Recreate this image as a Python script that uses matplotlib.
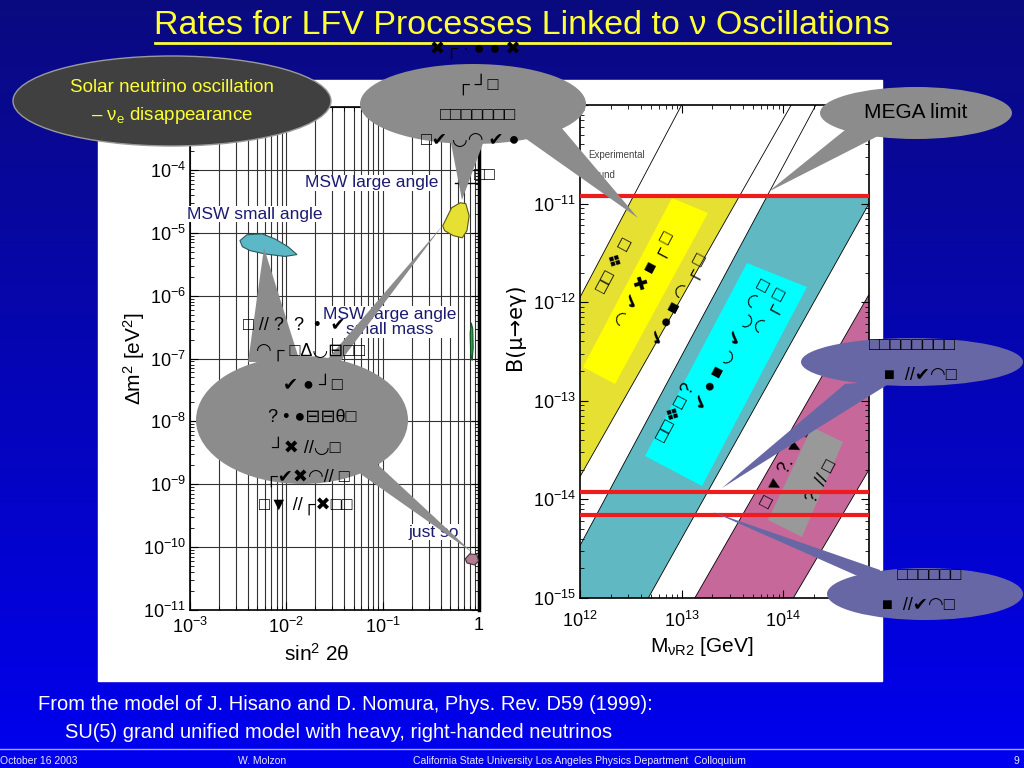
import numpy as np
import matplotlib.pyplot as plt
from matplotlib.patches import Ellipse, Polygon, Rectangle
from matplotlib.ticker import LogLocator, NullFormatter

plt.rcParams['font.family'] = ['Liberation Sans', 'DejaVu Sans']
plt.rcParams['mathtext.fontset'] = 'custom'
plt.rcParams['mathtext.rm'] = 'Liberation Sans'
plt.rcParams['mathtext.it'] = 'Liberation Sans:italic'
plt.rcParams['mathtext.sf'] = 'Liberation Sans'
plt.rcParams['axes.unicode_minus'] = False

W, H = 1024, 768

# ---------------- data: solar neutrino regions (sin^2 2theta, dm^2 [eV^2])
msw_small_x = [3.3e-3, 3.9e-3, 5.6e-3, 7.6e-3, 1.04e-2, 1.29e-2, 9.7e-3, 6.0e-3, 4.2e-3, 3.5e-3]
msw_small_y = [7.5e-6, 9.3e-6, 9.6e-6, 8.0e-6, 6.0e-6, 4.5e-6, 4.2e-6, 4.6e-6, 5.2e-6, 6.0e-6]
msw_large_x = [0.42, 0.52, 0.64, 0.73, 0.79, 0.75, 0.67, 0.54, 0.44]
msw_large_y = [1.29e-5, 2.5e-5, 3.0e-5, 2.9e-5, 1.86e-5, 1.08e-5, 8.3e-6, 9.0e-6, 1.08e-5]
low_x = [0.83, 0.86, 0.87, 0.85, 0.82, 0.81]
low_y = [3.7e-7, 3.0e-7, 1.5e-7, 9.3e-8, 1.2e-7, 2.5e-7]
just_so_x = [0.72, 0.80, 0.95, 0.99, 0.90, 0.75]
just_so_y = [6.5e-11, 7.8e-11, 7.6e-11, 6.0e-11, 5.2e-11, 5.6e-11]

sin_ticks = [1e-3, 1e-2, 1e-1, 1]
sin_labels = [r'$10^{-3}$', r'$10^{-2}$', r'$10^{-1}$', '1']
dm2_ticks = [1e-11, 1e-10, 1e-9, 1e-8, 1e-7, 1e-6, 1e-5, 1e-4, 1e-3]
dm2_labels = [r'$10^{-11}$', r'$10^{-10}$', r'$10^{-9}$', r'$10^{-8}$', r'$10^{-7}$',
              r'$10^{-6}$', r'$10^{-5}$', r'$10^{-4}$', '']

# ---------------- data: B(mu->e gamma) vs M_nuR2 bands (edge end points)
yellow_hi = ([1e12, 1e13], [1.12e-12, 1e-10])
yellow_lo = ([1e12, 1.2e14], [1.7e-14, 1e-10])
teal_hi = ([1e12, 2.1e14], [3.4e-15, 1e-10])
teal_lo = ([4.7e12, 7e14], [1e-15, 1e-11])
pink_hi = ([1.35e13, 7e14], [1e-15, 1.2e-12])
pink_lo = ([1.26e14, 7e14], [1e-15, 2e-14])
exp_bound = 1.2e-11
future_bounds = [1.2e-14, 7e-15]

m_lim = (1e12, 7e14)
b_lim = (1e-15, 1e-10)
m_ticks = [1e12, 1e13, 1e14]
m_labels = [r'$10^{12}$', r'$10^{13}$', r'$10^{14}$']
b_ticks = [1e-15, 1e-14, 1e-13, 1e-12, 1e-11, 1e-10]
b_labels = [r'$10^{-15}$', r'$10^{-14}$', r'$10^{-13}$', r'$10^{-12}$', r'$10^{-11}$', '']

fig = plt.figure(figsize=(10.24, 7.68), dpi=100)


def px_axes(left, top, right, bottom, **kw):
    return fig.add_axes([left / W, 1 - bottom / H, (right - left) / W, (bottom - top) / H], **kw)


# ---------------- slide background
bg = px_axes(0, 0, W, H, zorder=0)
img = np.zeros((256, 1, 3))
img[:, 0, 0] = np.linspace(0.04, 0.0, 256)
img[:, 0, 1] = np.linspace(0.04, 0.0, 256)
img[:, 0, 2] = np.linspace(0.50, 0.94, 256)
bg.imshow(img, extent=[0, W, H, 0], aspect='auto')
bg.set_xlim(0, W)
bg.set_ylim(H, 0)
bg.axis('off')
bg.add_patch(Rectangle((98, 80), 784, 601, color='white'))

bg.text(522, 26, 'Rates for LFV Processes Linked to ν Oscillations', color='#ffff33',
        fontsize=24.5, ha='center', va='center')
bg.plot([155, 890], [43, 43], color='#ffff33', lw=2)

bg.text(38, 705, 'From the model of J. Hisano and D. Nomura, Phys. Rev. D59 (1999):',
        color='white', fontsize=14.5, va='center')
bg.text(65, 732, 'SU(5) grand unified model with heavy, right-handed neutrinos',
        color='white', fontsize=14.5, va='center')
bg.plot([0, W], [749, 749], color='#a8a8ff', lw=1)
for x, s in [(0, 'October 16 2003'), (238, 'W. Molzon'),
             (413, 'California State University Los Angeles Physics Department  Colloquium'),
             (1014, '9')]:
    bg.text(x, 761, s, color='#e8e8ff', fontsize=7.5, va='center')

# ---------------- left plot: solar neutrino oscillation
axl = px_axes(190, 107, 479, 610, zorder=1)
axl.set_xscale('log')
axl.set_yscale('log')
axl.set_xlim(1e-3, 1)
axl.set_ylim(1e-11, 1e-3)
axl.grid(True, which='both', axis='x', color='#333333', lw=0.8)
axl.grid(True, which='major', axis='y', color='#333333', lw=0.8)
axl.set_xticks(sin_ticks)
axl.set_xticklabels(sin_labels)
axl.set_yticks(dm2_ticks)
axl.set_yticklabels(dm2_labels)
axl.yaxis.set_minor_locator(LogLocator(subs=np.arange(2, 10), numticks=20))
axl.xaxis.set_minor_formatter(NullFormatter())
axl.yaxis.set_minor_formatter(NullFormatter())
axl.tick_params(which='both', direction='in', top=True, right=True, labelsize=13, pad=3)
axl.tick_params(axis='x', pad=5)
axl.tick_params(which='major', length=6)
axl.tick_params(which='minor', length=3)
for sp in axl.spines.values():
    sp.set_linewidth(1.2)
axl.spines['right'].set_linewidth(2.5)
axl.set_xlabel('sin$^2$ 2θ', fontsize=15)
axl.xaxis.set_label_coords(0.44, -0.065)
axl.set_ylabel('Δm$^2$ [eV$^2$]', fontsize=15)
axl.yaxis.set_label_coords(-0.15, 0.5)

axl.fill(msw_small_x, msw_small_y, facecolor='#5cb8c6', edgecolor='#2a5a60', lw=0.8, zorder=3)
axl.fill(msw_large_x, msw_large_y, facecolor='#e6e033', edgecolor='#555522', lw=0.8, zorder=3)
axl.fill(low_x, low_y, facecolor='#22a050', edgecolor='#115522', lw=0.8, zorder=3)
axl.fill(just_so_x, just_so_y, facecolor='#b07c94', edgecolor='#443333', lw=0.8, zorder=3)

lab = dict(color='#1a1a70', fontsize=12.5, transform=bg.transData, zorder=4,
           bbox=dict(facecolor='white', edgecolor='none', pad=0.5))
axl.text(305, 183, 'MSW large angle', va='center', **lab)
axl.text(187, 214, 'MSW small angle', va='center', **lab)
axl.text(390, 322, 'MSW large angle\nsmall mass', va='center', ha='center', linespacing=1.0, **lab)
axl.text(408, 532, 'just so', va='center', **lab)
axl.plot([455, 478], [183, 183], color='k', lw=1, transform=bg.transData, zorder=4)

# ---------------- right plot: B(mu -> e gamma)
axr = px_axes(580, 105, 869, 598, zorder=1)
axr.set_xscale('log')
axr.set_yscale('log')
axr.set_xlim(*m_lim)
axr.set_ylim(*b_lim)
axr.set_xticks(m_ticks)
axr.set_xticklabels(m_labels)
axr.set_yticks(b_ticks)
axr.set_yticklabels(b_labels)
axr.yaxis.set_minor_locator(LogLocator(subs=np.arange(2, 10), numticks=20))
axr.xaxis.set_minor_formatter(NullFormatter())
axr.yaxis.set_minor_formatter(NullFormatter())
axr.tick_params(which='both', direction='in', top=True, right=True, labelsize=13, pad=3)
axr.tick_params(axis='x', pad=9)
axr.tick_params(which='major', length=6)
axr.tick_params(which='minor', length=3)
for sp in axr.spines.values():
    sp.set_linewidth(1.2)
axr.set_xlabel(r'M$_\mathrm{νR2}$ [GeV]', fontsize=15)
axr.xaxis.set_label_coords(0.42, -0.075)
axr.set_ylabel('B(μ→eγ)', fontsize=15, family=['DejaVu Sans'])
axr.yaxis.set_label_coords(-0.19, 0.55)

m_grid = np.array([1e11, 1e16])


def edge(pts):
    lx, ly = np.log10(pts[0]), np.log10(pts[1])
    k = (ly[1] - ly[0]) / (lx[1] - lx[0])
    return 10 ** (ly[0] + k * (np.log10(m_grid) - lx[0]))


for lo, hi, col in [(yellow_lo, yellow_hi, '#e6e033'), (teal_lo, teal_hi, '#5fb8c2'),
                    (pink_lo, pink_hi, '#c6689a')]:
    f = axr.fill_between(m_grid, edge(lo), edge(hi), facecolor=col, edgecolor='none', zorder=1)
    clip = Rectangle((m_lim[0], b_lim[0]), m_lim[1] - m_lim[0], exp_bound - b_lim[0],
                     transform=axr.transData)
    f.set_clip_path(clip)
    axr.plot(m_grid, edge(lo), color='k', lw=0.6, zorder=2)
    axr.plot(m_grid, edge(hi), color='k', lw=0.6, zorder=2)

# rotated text boxes on the bands (pixel positions)
for verts, col in [([(583, 367), (615, 384), (708, 213), (672, 198)], '#ffff00'),
                   ([(645, 456), (702, 486), (807, 287), (747, 263)], '#00ffff'),
                   ([(768, 520), (802, 537), (843, 442), (812, 427)], '#999999')]:
    axr.add_patch(Polygon(verts, closed=True, facecolor=col, edgecolor='none',
                          transform=bg.transData, zorder=3))

rot = dict(rotation=62, ha='center', va='center', fontsize=13, transform=bg.transData,
           zorder=4, rotation_mode='anchor')
for x, y, s in [(615, 266, '□□ ❖ □'), (646, 280, '◠ ✔ ✖ ■ ┌ □'), (680, 300, '✔ ● ■ ◠ ┌ □'),
                (676, 413, '□□❖□ ?'), (733, 345, '✔ ● ■ ◡ ✔ ◡ ◠ □'), (772, 312, '◠ ┌ □'),
                (787, 466, '□ ▼ ?. ▼ □'), (822, 482, '?. // □')]:
    axr.text(x, y, s, **rot)

for b in [exp_bound] + future_bounds:
    axr.axhline(b, color='#ee1c1c', lw=3, zorder=5)

axr.text(588, 155, 'Experimental', fontsize=7, color='#444444', va='center', transform=bg.transData)
axr.text(588, 175, 'bound', fontsize=7, color='#444444', va='center', transform=bg.transData)

# ---------------- callout bubbles on top
top = px_axes(0, 0, W, H, zorder=3)
top.set_xlim(0, W)
top.set_ylim(H, 0)
top.axis('off')
top.patch.set_alpha(0)

GRAY = '#8c8c8c'
PURP = '#6767a6'


def bubble(cx, cy, w, h, col, tails, ec='none'):
    for t in tails:
        top.add_patch(Polygon(t, closed=True, facecolor=col, edgecolor='none'))
    top.add_patch(Ellipse((cx, cy), w, h, facecolor=col, edgecolor=ec, lw=1))


bubble(172, 101, 318, 90, '#404040', [], ec='#9a9a9a')
top.text(172, 88, 'Solar neutrino oscillation', color='#ffff33', fontsize=13.5, ha='center', va='center')
top.text(172, 115, r'– $\mathrm{ν_e}$ disappearance', color='#ffff33', fontsize=13.5,
         ha='center', va='center')

bubble(473, 104, 226, 80, GRAY, [[(450, 138), (485, 138), (462, 200)],
                                 [(522, 136), (560, 126), (638, 218)]])
bubble(916, 113, 192, 52, GRAY, [[(850, 126), (880, 135), (768, 192)]])
top.text(916, 113, 'MEGA limit', fontsize=15, ha='center', va='center')

bubble(302, 420, 212, 128, GRAY, [[(248, 362), (300, 362), (264, 248)],
                                  [(325, 362), (340, 362), (443, 225)],
                                  [(355, 470), (375, 462), (473, 553)]])
bubble(912, 362, 222, 48, PURP, [[(845, 384), (895, 380), (722, 488)]])
bubble(925, 594, 196, 52, PURP, [[(880, 570), (878, 585), (713, 512)]])

glyph = dict(ha='center', va='center', fontsize=13, color='k')
for x, y, s in [(475, 50, '✖┌ · ● ● ✖'), (478, 84, '┌ ┘□'), (478, 115, '□□□□□□□'),
                (470, 140, '□✔ ◡◠ ✔ ●'), (485, 176, '□□'),
                (294, 325, '□ // ?  ?  •  ✔'), (310, 352, '◠┌ □Δ◡⊟□□'),
                (313, 385, '✔ ● ┘□'), (312, 417, '? • ●⊟⊟θ□'), (306, 448, '┘✖ //◡□'),
                (307, 478, '┌✔✖◠// □'), (306, 506, '□▼ //┌✖□□'),
                (912, 346, '□□□□□□□□'), (920, 375, '■  //✔◠□'),
                (930, 575, '□□□□□□'), (918, 605, '■  //✔◠□')]:
    top.text(x, y, s, **glyph)

fig.savefig('out.png', dpi=100)
